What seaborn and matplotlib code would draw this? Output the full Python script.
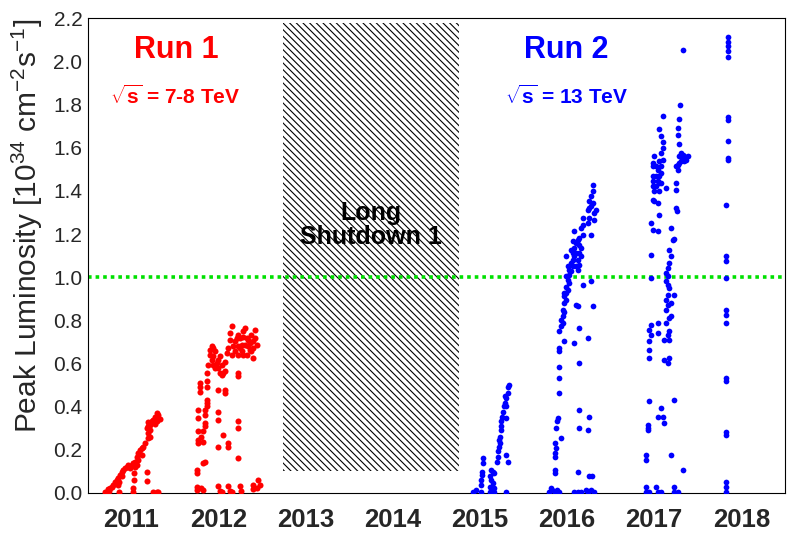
import matplotlib
matplotlib.use('Agg')
import matplotlib.pyplot as plt
from matplotlib.ticker import MultipleLocator, FormatStrFormatter
import numpy as np
import seaborn as sns

# (date in years, peak luminosity in 1e34 cm^-2 s^-1)
fills_2011 = [
    (2011.788, 0.370), (2011.806, 0.359), (2011.768, 0.350), (2011.826, 0.343), (2011.749, 0.339),
    (2011.730, 0.331), (2011.788, 0.331), (2011.692, 0.328), (2011.711, 0.316), (2011.768, 0.319),
    (2011.692, 0.308), (2011.673, 0.300), (2011.711, 0.292), (2011.692, 0.277), (2011.711, 0.261),
    (2011.692, 0.254), (2011.654, 0.231), (2011.634, 0.215), (2011.616, 0.207), (2011.596, 0.200),
    (2011.577, 0.184), (2011.616, 0.176), (2011.558, 0.168), (2011.577, 0.153), (2011.539, 0.145),
    (2011.558, 0.130), (2011.520, 0.138), (2011.539, 0.122), (2011.501, 0.130), (2011.462, 0.130),
    (2011.444, 0.122), (2011.482, 0.115), (2011.424, 0.115), (2011.405, 0.107), (2011.386, 0.096),
    (2011.367, 0.084), (2011.348, 0.071), (2011.386, 0.076), (2011.329, 0.060), (2011.356, 0.050),
    (2011.310, 0.050), (2011.290, 0.037), (2011.272, 0.029), (2011.252, 0.022), (2011.226, 0.017),
    (2011.241, 0.009), (2011.195, 0.006), (2011.214, 0.003), (2011.531, 0.091), (2011.531, 0.060),
    (2011.673, 0.096), (2011.673, 0.057), (2011.348, 0.037), (2011.356, 0.006), (2011.512, 0.022),
    (2011.512, 0.003), (2011.749, 0.006), (2011.788, 0.003), (2011.806, 0.006),
]
fills_2012 = [
    (2012.361, 0.555), (2012.380, 0.594), (2012.399, 0.664), (2012.419, 0.679), (2012.437, 0.671),
    (2012.456, 0.656), (2012.399, 0.640), (2012.419, 0.617), (2012.437, 0.594), (2012.456, 0.579),
    (2012.476, 0.602), (2012.494, 0.617), (2012.514, 0.633), (2012.533, 0.594), (2012.552, 0.555),
    (2012.533, 0.548), (2012.571, 0.563), (2012.591, 0.648), (2012.609, 0.671), (2012.628, 0.710),
    (2012.628, 0.741), (2012.648, 0.772), (2012.666, 0.679), (2012.686, 0.702), (2012.705, 0.718),
    (2012.724, 0.733), (2012.743, 0.671), (2012.763, 0.687), (2012.781, 0.749), (2012.800, 0.764),
    (2012.820, 0.718), (2012.838, 0.679), (2012.858, 0.695), (2012.877, 0.733), (2012.896, 0.702),
    (2012.915, 0.756), (2012.935, 0.687), (2012.877, 0.656), (2012.896, 0.625), (2012.781, 0.640),
    (2012.820, 0.640), (2012.743, 0.718), (2012.838, 0.710), (2012.800, 0.687), (2012.858, 0.664),
    (2012.763, 0.656), (2012.724, 0.640), (2012.648, 0.640), (2012.686, 0.656), (2012.571, 0.609),
    (2012.494, 0.579), (2012.514, 0.555), (2012.437, 0.633), (2012.896, 0.671), (2012.915, 0.718),
    (2012.781, 0.725), (2012.724, 0.679),
    (2012.284, 0.509), (2012.284, 0.493), (2012.284, 0.470), (2012.361, 0.517), (2012.361, 0.493),
    (2012.361, 0.432), (2012.361, 0.416), (2012.342, 0.385), (2012.265, 0.385), (2012.265, 0.347),
    (2012.342, 0.362), (2012.342, 0.323), (2012.265, 0.285), (2012.322, 0.285), (2012.303, 0.261),
    (2012.265, 0.246), (2012.265, 0.231), (2012.342, 0.145), (2012.322, 0.138), (2012.246, 0.107),
    (2012.246, 0.091), (2012.361, 0.401), (2012.342, 0.308), (2012.322, 0.238),
    (2012.494, 0.478), (2012.571, 0.478), (2012.571, 0.463), (2012.724, 0.540), (2012.724, 0.555),
    (2012.494, 0.377), (2012.494, 0.339), (2012.724, 0.331), (2012.724, 0.300), (2012.552, 0.269),
    (2012.609, 0.231), (2012.609, 0.215), (2012.494, 0.215), (2012.724, 0.161),
    (2012.246, 0.029), (2012.246, 0.014), (2012.303, 0.022), (2012.322, 0.014), (2012.494, 0.034),
    (2012.514, 0.009), (2012.609, 0.034), (2012.628, 0.009), (2012.743, 0.034), (2012.755, 0.009),
    (2012.896, 0.019), (2012.896, 0.037), (2012.953, 0.060), (2012.972, 0.037), (2012.935, 0.022),
    (2012.648, 0.006), (2012.533, 0.006),
]
fills_2015 = [
    (2015.419, 0.006), (2015.450, 0.014), (2015.515, 0.006), (2015.610, 0.006), (2015.641, 0.014),
    (2015.667, 0.006), (2015.801, 0.003),
    (2015.534, 0.161), (2015.534, 0.138), (2015.526, 0.099), (2015.526, 0.084), (2015.515, 0.060),
    (2015.515, 0.037),
    (2015.630, 0.107), (2015.648, 0.099), (2015.667, 0.091), (2015.610, 0.076), (2015.630, 0.060),
    (2015.648, 0.045), (2015.610, 0.029), (2015.667, 0.022),
    (2015.694, 0.145), (2015.705, 0.168), (2015.717, 0.215), (2015.725, 0.231), (2015.725, 0.261),
    (2015.736, 0.292), (2015.744, 0.308), (2015.744, 0.331), (2015.755, 0.354), (2015.763, 0.377),
    (2015.771, 0.401), (2015.782, 0.416), (2015.801, 0.401), (2015.801, 0.439), (2015.782, 0.447),
    (2015.820, 0.463), (2015.820, 0.493), (2015.839, 0.501), (2015.801, 0.347), (2015.705, 0.192),
    (2015.717, 0.246), (2015.801, 0.176), (2015.820, 0.145),
]
fills_2016 = [
    (2016.298, 0.006), (2016.329, 0.014), (2016.356, 0.006), (2016.382, 0.011), (2016.413, 0.006),
    (2016.317, 0.022), (2016.585, 0.006), (2016.623, 0.006), (2016.661, 0.006), (2016.738, 0.006),
    (2016.776, 0.011), (2016.814, 0.006), (2016.718, 0.014),
    (2016.356, 0.107), (2016.356, 0.091), (2016.356, 0.184), (2016.375, 0.207), (2016.356, 0.231),
    (2016.367, 0.168), (2016.375, 0.300), (2016.394, 0.347), (2016.382, 0.331), (2016.432, 0.254),
    (2016.413, 0.463), (2016.413, 0.532), (2016.413, 0.586), (2016.413, 0.671), (2016.413, 0.660),
    (2016.470, 0.702), (2016.413, 0.749), (2016.432, 0.772), (2016.451, 0.787), (2016.451, 0.818),
    (2016.470, 0.841), (2016.451, 0.849), (2016.432, 0.803), (2016.470, 0.880), (2016.490, 0.896),
    (2016.470, 0.911), (2016.490, 0.927), (2016.508, 0.942), (2016.490, 0.957), (2016.528, 0.973),
    (2016.508, 0.988), (2016.490, 1.004), (2016.528, 1.012), (2016.547, 1.027), (2016.566, 1.050),
    (2016.547, 1.066), (2016.566, 1.081), (2016.585, 1.097), (2016.566, 1.112), (2016.547, 1.128),
    (2016.585, 1.135), (2016.604, 1.159), (2016.566, 1.166), (2016.623, 1.174), (2016.642, 1.151),
    (2016.661, 1.135), (2016.642, 1.112), (2016.661, 1.097), (2016.623, 1.081), (2016.642, 1.058),
    (2016.604, 1.050), (2016.623, 1.035), (2016.490, 1.097), (2016.585, 1.213), (2016.680, 1.197),
    (2016.661, 1.228), (2016.680, 1.244), (2016.680, 1.275), (2016.776, 1.197), (2016.738, 1.251),
    (2016.757, 1.275), (2016.738, 1.313), (2016.776, 1.329), (2016.795, 1.344), (2016.757, 1.352),
    (2016.776, 1.375), (2016.795, 1.398), (2016.795, 1.429), (2016.814, 1.298), (2016.833, 1.313),
    (2016.814, 1.267), (2016.757, 1.321), (2016.642, 1.182), (2016.528, 1.035), (2016.508, 1.050),
    (2016.604, 1.112), (2016.470, 0.927),
    (2016.680, 0.965), (2016.776, 0.981), (2016.795, 0.865), (2016.604, 0.872), (2016.623, 0.865),
    (2016.642, 0.764), (2016.585, 0.695), (2016.738, 0.718), (2016.642, 0.602), (2016.642, 0.385),
    (2016.757, 0.354), (2016.642, 0.300), (2016.738, 0.292), (2016.623, 0.099), (2016.757, 0.079),
    (2016.787, 0.079),
]
fills_2017 = [
    (2017.835, 2.056), (2017.796, 1.800), (2017.597, 1.746), (2017.781, 1.735), (2017.560, 1.688),
    (2017.770, 1.692), (2017.579, 1.657), (2017.770, 1.661), (2017.597, 1.626), (2017.781, 1.619),
    (2017.502, 1.561), (2017.579, 1.576), (2017.597, 1.600), (2017.483, 1.530), (2017.483, 1.514),
    (2017.560, 1.537), (2017.579, 1.514), (2017.597, 1.545), (2017.540, 1.499), (2017.579, 1.484),
    (2017.560, 1.468), (2017.540, 1.445), (2017.560, 1.437), (2017.483, 1.468), (2017.483, 1.445),
    (2017.483, 1.421), (2017.636, 1.414), (2017.483, 1.360), (2017.502, 1.352), (2017.540, 1.344),
    (2017.560, 1.290), (2017.464, 1.251), (2017.483, 1.220), (2017.540, 1.213), (2017.464, 1.104),
    (2017.464, 0.996), (2017.521, 1.514), (2017.521, 1.468), (2017.579, 1.437), (2017.521, 1.421),
    (2017.502, 1.398), (2017.560, 1.398),
    (2017.693, 1.228), (2017.712, 1.174), (2017.731, 1.177), (2017.674, 1.128), (2017.693, 1.097),
    (2017.674, 1.066), (2017.655, 1.043), (2017.636, 1.020), (2017.655, 1.004), (2017.636, 0.981),
    (2017.655, 0.965), (2017.674, 0.950), (2017.655, 0.919), (2017.636, 0.896), (2017.655, 0.872),
    (2017.731, 0.919), (2017.693, 0.818), (2017.674, 0.811), (2017.636, 0.787), (2017.674, 0.749),
    (2017.655, 0.733), (2017.617, 0.710), (2017.674, 0.710), (2017.636, 0.849), (2017.693, 0.880),
    (2017.464, 0.780), (2017.445, 0.756), (2017.464, 0.733), (2017.445, 0.702), (2017.445, 0.664),
    (2017.445, 0.625), (2017.540, 0.787), (2017.540, 0.741), (2017.617, 0.617), (2017.655, 0.602),
    (2017.674, 0.625),
    (2017.445, 0.424), (2017.731, 0.432), (2017.579, 0.393), (2017.540, 0.354), (2017.597, 0.354),
    (2017.617, 0.323), (2017.426, 0.316), (2017.426, 0.300), (2017.426, 0.292), (2017.407, 0.176),
    (2017.407, 0.153), (2017.693, 0.176), (2017.827, 0.107),
    (2017.407, 0.029), (2017.407, 0.006), (2017.445, 0.006), (2017.521, 0.029), (2017.540, 0.006),
    (2017.579, 0.006), (2017.731, 0.029), (2017.731, 0.006), (2017.770, 0.006),
    (2017.789, 1.561), (2017.808, 1.576), (2017.827, 1.553), (2017.846, 1.561), (2017.865, 1.545),
    (2017.846, 1.537), (2017.808, 1.537), (2017.789, 1.530), (2017.770, 1.522), (2017.827, 1.568),
    (2017.884, 1.561), (2017.750, 1.514), (2017.770, 1.499), (2017.750, 1.437), (2017.750, 1.406),
    (2017.750, 1.321), (2017.758, 1.305),
]
fills_2018 = [
    (2018.345, 2.116), (2018.345, 2.093), (2018.345, 2.074), (2018.345, 2.051), (2018.345, 2.023),
    (2018.345, 1.745), (2018.345, 1.730), (2018.345, 1.630), (2018.345, 1.555), (2018.345, 1.543),
    (2018.330, 1.336), (2018.330, 1.100), (2018.330, 1.077), (2018.330, 0.998), (2018.325, 0.850),
    (2018.325, 0.826), (2018.325, 0.790), (2018.325, 0.534), (2018.325, 0.520), (2018.325, 0.283),
    (2018.325, 0.270), (2018.325, 0.050), (2018.325, 0.028), (2018.325, 0.005),
]

year_labels = ['2011', '2012', '2013', '2014', '2015', '2016', '2017', '2018']
ls1_start, ls1_end = 2013.24, 2015.26
ls1_low, ls1_high = 0.1, 2.18
ref_lumi = 1.0

run1 = np.array(fills_2011 + fills_2012)
run2 = np.array(fills_2015 + fills_2016 + fills_2017 + fills_2018)

sns.set_style('white')
plt.rcParams['font.family'] = ['Liberation Sans', 'DejaVu Sans']
plt.rcParams['mathtext.fontset'] = 'custom'
plt.rcParams['mathtext.rm'] = 'Liberation Sans'
plt.rcParams['mathtext.it'] = 'Liberation Sans:italic'
plt.rcParams['mathtext.bf'] = 'Liberation Sans:bold'
plt.rcParams['hatch.linewidth'] = 0.8

fig = plt.figure(figsize=(8, 5.44), dpi=100)
ax = fig.add_axes([0.11, 0.094, 0.871, 0.872])

# hatch spacing: 5 backslashes -> ~7 px between lines
back = chr(92)
ax.fill_between([ls1_start, ls1_end], ls1_low, ls1_high, facecolor='none',
                edgecolor='black', hatch=back * 5, linewidth=0, zorder=1)
ax.axhline(ref_lumi, color='#00e000', lw=2.6, linestyle=(0, (1, 1.1)), zorder=2)

sns.scatterplot(x=run1[:, 0], y=run1[:, 1], color='#ff0000', s=19, linewidth=0, ax=ax, zorder=3)
sns.scatterplot(x=run2[:, 0], y=run2[:, 1], color='#0000ff', s=17, linewidth=0, ax=ax, zorder=3)

ax.set_xlim(2011, 2019)
ax.set_ylim(0, 2.2)

ax.xaxis.set_major_locator(MultipleLocator(1))
ax.xaxis.set_minor_locator(MultipleLocator(0.25))
ax.yaxis.set_major_locator(MultipleLocator(0.2))
ax.yaxis.set_minor_locator(MultipleLocator(0.05))
ax.yaxis.set_major_formatter(FormatStrFormatter('%.1f'))
ax.tick_params(axis='x', which='major', direction='in', length=8.5, width=0.8, labelbottom=False)
ax.tick_params(axis='x', which='minor', direction='in', length=4, width=0.8)
ax.tick_params(axis='y', which='major', direction='in', length=16, width=0.8, labelsize=15, pad=4)
ax.tick_params(axis='y', which='minor', direction='in', length=8, width=0.8)
for sp in ax.spines.values():
    sp.set_linewidth(0.8)
    sp.set_color('black')

sec = ax.secondary_xaxis('bottom')
sec.set_xticks([2011.5 + i for i in range(len(year_labels))], labels=year_labels)
sec.tick_params(length=0, labelsize=18.5, pad=11)
for t in sec.get_xticklabels():
    t.set_fontweight('bold')
sec.spines['bottom'].set_visible(False)

ax.set_ylabel(r'Peak Luminosity [10$^{34}$ cm$^{-2}$s$^{-1}$]', fontsize=21.5, loc='top')
ax.yaxis.set_label_coords(-0.062, 1.0)

ax.text(2012.01, 2.056, 'Run 1', color='#ff0000', fontsize=22, fontweight='bold', ha='center', va='center')
ax.text(2012.0, 1.838, r'$\sqrt{\mathbf{s}}$ = 7-8 TeV', color='#ff0000', fontsize=15, fontweight='bold',
        ha='center', va='center')
ax.text(2016.49, 2.056, 'Run 2', color='#0000ff', fontsize=22, fontweight='bold', ha='center', va='center')
ax.text(2016.5, 1.838, r'$\sqrt{\mathbf{s}}$ = 13 TeV', color='#0000ff', fontsize=15, fontweight='bold',
        ha='center', va='center')
ax.text((ls1_start + ls1_end) / 2, 1.244, 'Long\nShutdown 1', color='black', fontsize=18,
        fontweight='bold', ha='center', va='center', linespacing=1.0, zorder=4)

fig.savefig('out.png', dpi=100)
